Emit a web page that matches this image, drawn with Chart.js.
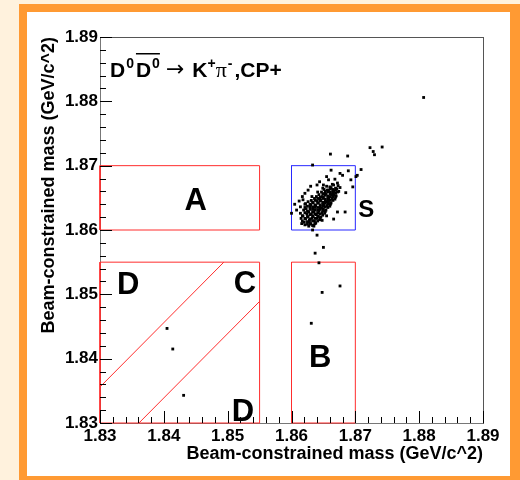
<!DOCTYPE html>
<html>
<head>
<meta charset="utf-8">
<script src="https://cdn.jsdelivr.net/npm/chart.js@4.4.1/dist/chart.umd.min.js"></script>
<style>
  html, body { margin: 0; padding: 0; background: #fff2dd; overflow: hidden; }
  #frame {
    position: absolute; left: 19px; top: 4px; width: 483px; height: 464px;
    background: #fff; border-style: solid; border-color: #ff9a33;
    border-width: 8px 10px 4px 8px;
  }
  #plot { position: absolute; left: 0; top: 0; }
</style>
</head>
<body>
<div id="frame"></div>
<canvas id="plot" width="520" height="480"></canvas>
<script>
const FONT = '"Liberation Sans", Arial, sans-serif';

// axis ranges (GeV/c^2) and tick marks
const xRange = [1.83, 1.89];
const yRange = [1.83, 1.89];
const majorStep = 0.01;
const majorTicks = [1.83, 1.84, 1.85, 1.86, 1.87, 1.88, 1.89];
const minorTicks = [1.832, 1.834, 1.836, 1.838, 1.842, 1.844, 1.846, 1.848,
                    1.852, 1.854, 1.856, 1.858, 1.862, 1.864, 1.866, 1.868,
                    1.872, 1.874, 1.876, 1.878, 1.882, 1.884, 1.886, 1.888];

// selection regions: [xmin, xmax, ymin, ymax]
const regionA = [1.83, 1.855, 1.86, 1.87];
const regionB = [1.86, 1.87, 1.83, 1.855];
const regionCD = [1.83, 1.855, 1.83, 1.855];
const regionS = [1.86, 1.87, 1.86, 1.87];
// diagonal bands y = x + offset inside the C/D box
const diagonalOffsets = [0.0056, -0.0061];

const regionLabels = ['A', 'B', 'C', 'D', 'D', 'S'];
const regionLabelX = [1.8450, 1.8645, 1.8527, 1.8344, 1.8524, 1.8717];
const regionLabelY = [1.8648, 1.8405, 1.8519, 1.8517, 1.8320, 1.8633];

// candidates, [mbc1, mbc2]
const coreEvents = [
  [1.8615,1.8618],[1.8614,1.8626],[1.8616,1.8610],
  [1.8620,1.8612],[1.8618,1.8622],[1.8619,1.8631],[1.8621,1.8640],
  [1.8622,1.8617],[1.8624,1.8625],[1.8623,1.8633],[1.8625,1.8609],[1.8622,1.8641],
  [1.8628,1.8613],[1.8626,1.8620],[1.8627,1.8628],[1.8629,1.8636],[1.8626,1.8644],[1.8627,1.8606],
  [1.8630,1.8610],[1.8632,1.8618],[1.8631,1.8625],[1.8633,1.8632],[1.8630,1.8639],[1.8631,1.8646],[1.8632,1.8652],
  [1.8636,1.8614],[1.8634,1.8621],[1.8635,1.8628],[1.8637,1.8635],[1.8634,1.8642],[1.8636,1.8649],[1.8635,1.8606],
  [1.8638,1.8611],[1.8640,1.8618],[1.8639,1.8624],[1.8641,1.8631],[1.8638,1.8638],[1.8640,1.8645],[1.8639,1.8652],[1.8641,1.8659],
  [1.8644,1.8616],[1.8642,1.8622],[1.8643,1.8629],[1.8645,1.8636],[1.8642,1.8642],[1.8644,1.8648],[1.8643,1.8655],
  [1.8646,1.8620],[1.8648,1.8627],[1.8647,1.8634],[1.8649,1.8640],[1.8646,1.8646],[1.8648,1.8652],[1.8647,1.8659],[1.8649,1.8665],
  [1.8652,1.8626],[1.8650,1.8633],[1.8651,1.8639],[1.8653,1.8645],[1.8650,1.8651],[1.8652,1.8657],[1.8651,1.8663],
  [1.8654,1.8631],[1.8656,1.8638],[1.8655,1.8644],[1.8657,1.8650],[1.8654,1.8656],[1.8656,1.8662],[1.8655,1.8668],
  [1.8660,1.8637],[1.8658,1.8644],[1.8659,1.8650],[1.8661,1.8656],[1.8658,1.8662],[1.8660,1.8667],
  [1.8662,1.8642],[1.8664,1.8649],[1.8663,1.8655],[1.8665,1.8661],[1.8662,1.8666],[1.8664,1.8671],
  [1.8668,1.8648],[1.8666,1.8655],[1.8667,1.8660],[1.8669,1.8665],[1.8666,1.8670],
  [1.8670,1.8653],[1.8672,1.8659],[1.8671,1.8664],[1.8673,1.8669],
  [1.8674,1.8660],[1.8676,1.8666],
  [1.8617,1.8614],[1.8617,1.8622],
  [1.8621,1.8618],[1.8621,1.8627],[1.8621,1.8635],
  [1.8625,1.8613],[1.8625,1.8621],[1.8625,1.8629],[1.8625,1.8637],
  [1.8629,1.8609],[1.8629,1.8617],[1.8629,1.8624],[1.8629,1.8632],[1.8629,1.8640],
  [1.8633,1.8607],[1.8633,1.8614],[1.8633,1.8622],[1.8633,1.8628],[1.8633,1.8636],[1.8633,1.8643],
  [1.8637,1.8610],[1.8637,1.8618],[1.8637,1.8625],[1.8637,1.8631],[1.8637,1.8639],[1.8637,1.8646],
  [1.8641,1.8614],[1.8641,1.8621],[1.8641,1.8627],[1.8641,1.8635],[1.8641,1.8642],[1.8641,1.8649],
  [1.8645,1.8619],[1.8645,1.8625],[1.8645,1.8632],[1.8645,1.8639],[1.8645,1.8645],[1.8645,1.8651],
  [1.8649,1.8623],[1.8649,1.8630],[1.8649,1.8637],[1.8649,1.8643],[1.8649,1.8649],[1.8649,1.8656],
  [1.8653,1.8629],[1.8653,1.8636],[1.8653,1.8642],[1.8653,1.8648],[1.8653,1.8654],[1.8653,1.8660],
  [1.8657,1.8635],[1.8657,1.8641],[1.8657,1.8647],[1.8657,1.8653],[1.8657,1.8659],
  [1.8661,1.8640],[1.8661,1.8646],[1.8661,1.8652],[1.8661,1.8659],[1.8661,1.8664],
  [1.8665,1.8646],[1.8665,1.8652],[1.8665,1.8658],[1.8665,1.8663],
  [1.8669,1.8651],[1.8669,1.8657],[1.8669,1.8662]
];

const haloEvents = [
  [1.8662,1.8693],[1.8676,1.8688],[1.8680,1.8685],[1.8689,1.8692],[1.8655,1.8683],
  [1.8658,1.8678],[1.8668,1.8679],[1.8672,1.8673],[1.8644,1.8675],[1.8640,1.8670],
  [1.8650,1.8670],[1.8685,1.8658],[1.8684,1.8628],[1.8672,1.8628],[1.8666,1.8617],
  [1.8655,1.8622],[1.8648,1.8615],[1.8635,1.8608],[1.8628,1.8615],[1.8621,1.8608],
  [1.8608,1.8631],[1.8614,1.8636],[1.8618,1.8647],[1.8621,1.8657],[1.8696,1.8667],
  [1.8693,1.8678],[1.8612,1.8645],[1.8626,1.8662],[1.8630,1.8668],[1.8605,1.8640],
  [1.8617,1.8652],[1.8633,1.8600],[1.8640,1.8592],[1.8600,1.8626]
];

const outlierEvents = [
  [1.8807,1.8806],[1.8723,1.8728],[1.8742,1.8729],[1.8728,1.8722],[1.8730,1.8717],
  [1.8661,1.8718],[1.8688,1.8715],[1.8633,1.8701],[1.8709,1.8694],[1.8701,1.8683],
  [1.8703,1.8685],[1.8637,1.8564],[1.8650,1.8573],[1.8643,1.8549],[1.8676,1.8513],
  [1.8648,1.8503],[1.8631,1.8455],[1.8405,1.8447],[1.8414,1.8415],[1.8431,1.8343]
];

function toPoints(list) {
  return list.map(p => ({x: p[0], y: p[1]}));
}

function boxPoints(r) {
  return [
    {x: r[0], y: r[2]}, {x: r[1], y: r[2]}, {x: r[1], y: r[3]},
    {x: r[0], y: r[3]}, {x: r[0], y: r[2]}
  ];
}

function diagonalPoints(r, d) {
  const xs = Math.max(r[0], r[2] - d);
  const xe = Math.min(r[1], r[3] - d);
  return [{x: xs, y: xs + d}, {x: xe, y: xe + d}];
}

function outline(data, color) {
  return {
    type: 'line', data: data, showLine: true, fill: false,
    borderColor: color, borderWidth: 1, pointRadius: 0, tension: 0, clip: false
  };
}

const red = 'rgb(255,45,45)';
const datasets = [
  {
    data: toPoints(coreEvents.concat(haloEvents, outlierEvents)),
    pointStyle: 'rect', pointRadius: 2, backgroundColor: '#000', borderWidth: 0
  },
  outline(boxPoints(regionA), red),
  outline(boxPoints(regionB), red),
  outline(boxPoints(regionCD), red),
  outline(diagonalPoints(regionCD, diagonalOffsets[0]), red),
  outline(diagonalPoints(regionCD, diagonalOffsets[1]), red),
  outline(boxPoints(regionS), 'rgb(40,40,255)')
];

function drawTitle(ctx, x0, base) {
  const big = 'bold 21px ' + FONT;
  const sup = 'bold 14px ' + FONT;
  const pieces = [
    {t: 'D', f: big, dy: 0, gap: 0},
    {t: '0', f: sup, dy: -9, gap: 1},
    {t: 'D', f: big, dy: 0, gap: 2, barStart: true},
    {t: '0', f: sup, dy: -9, gap: 1, barEnd: true},
    {t: '\u2192', f: '22px "DejaVu Sans", sans-serif', dy: -1, gap: 6},
    {t: 'K', f: big, dy: 0, gap: 8},
    {t: '+', f: sup, dy: -9, gap: 0},
    {t: '\u03c0', f: '22px "Liberation Serif", serif', dy: 0, gap: 0},
    {t: '-', f: sup, dy: -9, gap: 1},
    {t: ',CP+', f: big, dy: 0, gap: 2}
  ];
  let x = x0, barX = 0;
  ctx.textAlign = 'left';
  ctx.textBaseline = 'alphabetic';
  for (const p of pieces) {
    x += p.gap;
    ctx.font = p.f;
    if (p.barStart) barX = x;
    ctx.fillText(p.t, x, base + p.dy);
    x += ctx.measureText(p.t).width;
    if (p.barEnd) {
      ctx.fillRect(barX, base - 24, x - barX, 1.5);
    }
  }
}

// ROOT style tick marks pointing into the frame
function drawInnerTicks(chart) {
  const ctx = chart.ctx;
  const area = chart.chartArea;
  const xs = chart.scales.x;
  const ys = chart.scales.y;
  ctx.fillStyle = '#000';
  const sets = [[majorTicks, 12], [minorTicks, 6]];
  for (const [values, len] of sets) {
    for (const v of values) {
      const px = Math.round(xs.getPixelForValue(v));
      ctx.fillRect(px, area.bottom - len, 1, len);
      const py = Math.round(ys.getPixelForValue(v));
      ctx.fillRect(area.left, py, len, 1);
    }
  }
}

const labelPlugin = {
  id: 'labels',
  afterDraw(chart) {
    const {ctx, scales} = chart;
    ctx.save();
    drawInnerTicks(chart);
    ctx.fillStyle = '#000';
    ctx.textAlign = 'center';
    ctx.textBaseline = 'alphabetic';
    regionLabels.forEach((t, i) => {
      const size = t === 'S' ? 24 : 31;
      ctx.font = 'bold ' + size + 'px ' + FONT;
      ctx.fillText(t, scales.x.getPixelForValue(regionLabelX[i]),
        scales.y.getPixelForValue(regionLabelY[i]) + size * 0.358);
    });
    drawTitle(ctx, chart.chartArea.left + 10, chart.chartArea.top + 40);
    ctx.restore();
  }
};

const tickFont = {family: FONT, size: 17, weight: 'bold'};
const titleFont = {family: FONT, size: 18, weight: 'bold'};
const axisTitle = 'Beam-constrained mass (GeV/c^2)';
const noGrid = {display: false, drawTicks: false, tickLength: 0};

new Chart(document.getElementById('plot'), {
  type: 'scatter',
  data: {datasets: datasets},
  plugins: [labelPlugin],
  options: {
    responsive: false,
    animation: false,
    devicePixelRatio: 1,
    events: [],
    layout: {padding: {left: 0, top: 37, right: 37, bottom: 0}},
    plugins: {legend: {display: false}, tooltip: {enabled: false}},
    scales: {
      x: {
        type: 'linear', position: 'bottom', min: xRange[0], max: xRange[1],
        afterFit: s => { s.height = 57; },
        ticks: {stepSize: majorStep, maxTicksLimit: 10, autoSkip: false, maxRotation: 0,
                padding: 3, color: '#000', font: tickFont, callback: v => v.toFixed(2)},
        grid: noGrid,
        border: {color: '#777'},
        title: {display: true, text: axisTitle, align: 'end', color: '#000', font: titleFont,
                padding: {top: 0, bottom: 15}}
      },
      xTop: {
        type: 'linear', position: 'top', min: xRange[0], max: xRange[1],
        afterFit: s => { s.height = 0; },
        ticks: {display: false},
        grid: noGrid,
        border: {color: '#555'}
      },
      y: {
        type: 'linear', position: 'left', min: yRange[0], max: yRange[1],
        afterFit: s => { s.width = 100; },
        ticks: {stepSize: majorStep, maxTicksLimit: 10, autoSkip: false,
                padding: 2, color: '#000', font: tickFont, callback: v => v.toFixed(2)},
        grid: noGrid,
        border: {color: '#777'},
        title: {display: true, text: axisTitle, align: 'end', color: '#000', font: titleFont,
                padding: {top: 38, bottom: 0}}
      },
      yRight: {
        type: 'linear', position: 'right', min: yRange[0], max: yRange[1],
        afterFit: s => { s.width = 0; },
        ticks: {display: false},
        grid: noGrid,
        border: {color: '#555'}
      }
    }
  }
});
</script>
</body>
</html>
